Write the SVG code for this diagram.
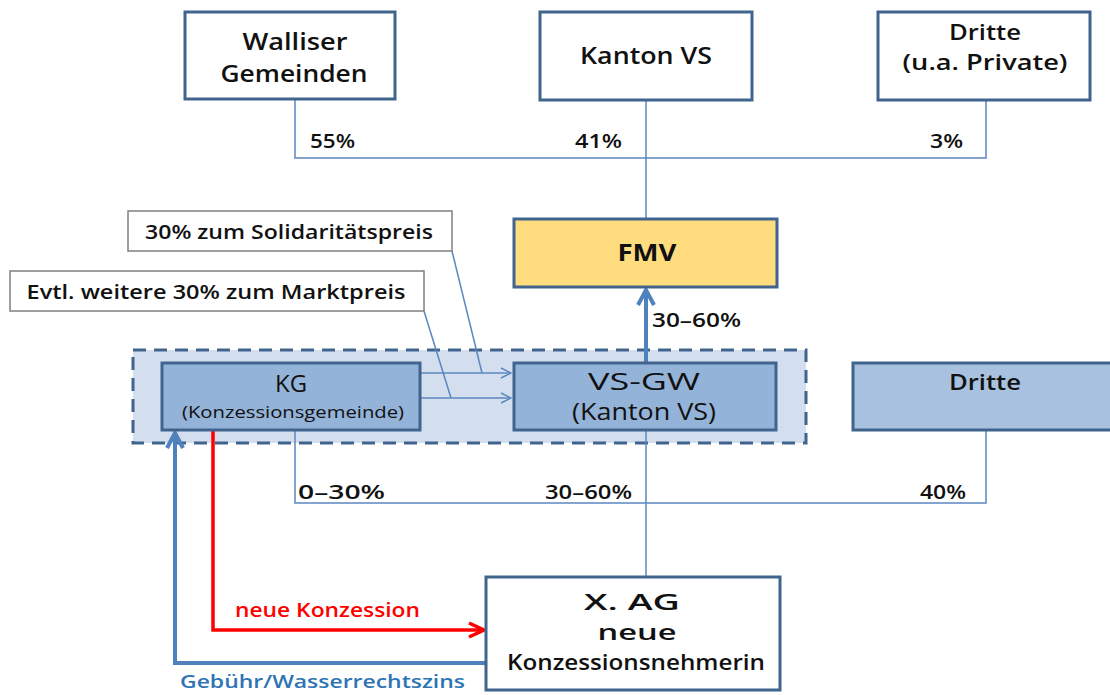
<svg xmlns="http://www.w3.org/2000/svg" width="1110" height="695" viewBox="0 0 1110 695">
<style>
text{font-family:"Open Sans","Liberation Sans",sans-serif;fill:#111;text-anchor:middle;font-weight:600}
.box{stroke:#41648F;stroke-width:3}
.w{fill:#fff}
.lbl{fill:#fff;stroke:#7F7F7F;stroke-width:1.5}
.thin{fill:none;stroke:#5B87C0;stroke-width:1.5}
.pct{font-size:20px;text-anchor:start}
.reg{font-weight:normal}
.bold{font-weight:bold}
</style>
<defs>
<marker id="ah" viewBox="0 0 12 12" refX="11" refY="6" markerWidth="12" markerHeight="12" markerUnits="userSpaceOnUse" orient="auto">
<path d="M1,1 L11,6 L1,11" fill="none" stroke="#5B87C0" stroke-width="1.5"/>
</marker>
<marker id="ahb" viewBox="0 0 20 20" refX="18" refY="10" markerWidth="20" markerHeight="20" markerUnits="userSpaceOnUse" orient="auto">
<path d="M3,2 L18,10 L3,18" fill="none" stroke="#4F81BD" stroke-width="4"/>
</marker>
<marker id="ahr" viewBox="0 0 20 20" refX="18" refY="10" markerWidth="20" markerHeight="20" markerUnits="userSpaceOnUse" orient="auto">
<path d="M3,3 L18,10 L3,17" fill="none" stroke="#FF0000" stroke-width="3.5"/>
</marker>
</defs>

<g id="group-bg">
<rect x="133" y="350" width="673" height="93" fill="#D3DEEE" stroke="#41648F" stroke-width="3" stroke-dasharray="13,8"/>
</g>

<g id="connectors">
<polyline class="thin" points="295,100 295,158 986,158 986,100"/>
<line class="thin" x1="646" y1="100" x2="646" y2="219"/>
<polyline class="thin" points="295,430 295,503 986,503 986,430"/>
<line class="thin" x1="646" y1="430" x2="646" y2="577"/>
<line class="thin" x1="420" y1="373" x2="511" y2="373" marker-end="url(#ah)"/>
<line class="thin" x1="420" y1="398" x2="511" y2="398" marker-end="url(#ah)"/>
<line class="thin" x1="452" y1="251" x2="482" y2="373"/>
<line class="thin" x1="424" y1="311" x2="451" y2="398"/>
<line x1="646" y1="362" x2="646" y2="290" stroke="#4F81BD" stroke-width="4" marker-end="url(#ahb)"/>
<polyline points="213,430 213,630 484,630" fill="none" stroke="#FF0000" stroke-width="3.5" marker-end="url(#ahr)"/>
<polyline points="486,663 175,663 175,433" fill="none" stroke="#4F81BD" stroke-width="4" marker-end="url(#ahb)"/>
<text class="pct" x="310" y="148" textLength="45" lengthAdjust="spacingAndGlyphs">55%</text>
<text class="pct" x="575" y="148" textLength="47" lengthAdjust="spacingAndGlyphs">41%</text>
<text class="pct" x="930" y="148" textLength="33" lengthAdjust="spacingAndGlyphs">3%</text>
<text class="pct" x="652" y="327" textLength="89" lengthAdjust="spacingAndGlyphs">30–60%</text>
<text class="pct" x="298" y="499" textLength="87" lengthAdjust="spacingAndGlyphs">0–30%</text>
<text class="pct" x="545" y="499" textLength="87" lengthAdjust="spacingAndGlyphs">30–60%</text>
<text class="pct" x="920" y="499" textLength="46" lengthAdjust="spacingAndGlyphs">40%</text>
<text x="235" y="617" style="font-size:19px;fill:#FF0000;text-anchor:start" textLength="185" lengthAdjust="spacingAndGlyphs">neue Konzession</text>
<text x="180" y="688" style="font-size:18px;fill:#2E74B5;text-anchor:start" textLength="285" lengthAdjust="spacingAndGlyphs">Gebühr/Wasserrechtszins</text>
</g>

<g id="walliser">
<rect class="box w" x="185" y="12" width="210" height="87"/>
<text x="295" y="50" font-size="24" textLength="105" lengthAdjust="spacingAndGlyphs">Walliser</text>
<text x="294" y="82" font-size="24" textLength="147" lengthAdjust="spacingAndGlyphs">Gemeinden</text>
</g>
<g id="kanton">
<rect class="box w" x="540" y="12" width="212" height="88"/>
<text x="646" y="64" font-size="24" textLength="132" lengthAdjust="spacingAndGlyphs">Kanton VS</text>
</g>
<g id="dritte-top">
<rect class="box w" x="878" y="12" width="212" height="88"/>
<text x="985" y="40" font-size="22" textLength="72" lengthAdjust="spacingAndGlyphs">Dritte</text>
<text x="985" y="70" font-size="22" textLength="165" lengthAdjust="spacingAndGlyphs">(u.a. Private)</text>
</g>
<g id="fmv">
<rect class="box" x="514" y="219" width="263" height="68" fill="#FFDC7E"/>
<text class="bold" x="647" y="261" font-size="23" textLength="59" lengthAdjust="spacingAndGlyphs">FMV</text>
</g>
<g id="solidaritaet">
<rect class="lbl" x="128" y="211" width="324" height="40"/>
<text x="289" y="239" font-size="19" textLength="288" lengthAdjust="spacingAndGlyphs">30% zum Solidaritätspreis</text>
</g>
<g id="markt">
<rect class="lbl" x="10" y="271" width="414" height="40"/>
<text x="216" y="299" font-size="19" textLength="379" lengthAdjust="spacingAndGlyphs">Evtl. weitere 30% zum Marktpreis</text>
</g>
<g id="kg">
<rect class="box" x="162" y="363" width="258" height="67" fill="#94B3D8"/>
<text class="reg" x="291" y="392" font-size="23" textLength="32" lengthAdjust="spacingAndGlyphs">KG</text>
<text class="reg" x="293" y="418" font-size="16" textLength="222" lengthAdjust="spacingAndGlyphs">(Konzessionsgemeinde)</text>
</g>
<g id="vsgw">
<rect class="box" x="514" y="363" width="262" height="67" fill="#94B3D8"/>
<text class="reg" x="644" y="390" font-size="23" textLength="112" lengthAdjust="spacingAndGlyphs">VS-GW</text>
<text class="reg" x="644" y="420" font-size="23" textLength="144" lengthAdjust="spacingAndGlyphs">(Kanton VS)</text>
</g>
<g id="dritte-right">
<rect class="box" x="853" y="363" width="262" height="67" fill="#A8C1DF"/>
<text x="985" y="390" font-size="21" textLength="72" lengthAdjust="spacingAndGlyphs">Dritte</text>
</g>
<g id="xag">
<rect class="box w" x="486" y="577" width="294" height="113"/>
<text x="632" y="610" font-size="22" textLength="96" lengthAdjust="spacingAndGlyphs">X. AG</text>
<text x="637" y="640" font-size="22" textLength="79" lengthAdjust="spacingAndGlyphs">neue</text>
<text x="636" y="670" font-size="22" textLength="258" lengthAdjust="spacingAndGlyphs">Konzessionsnehmerin</text>
</g>
</svg>
